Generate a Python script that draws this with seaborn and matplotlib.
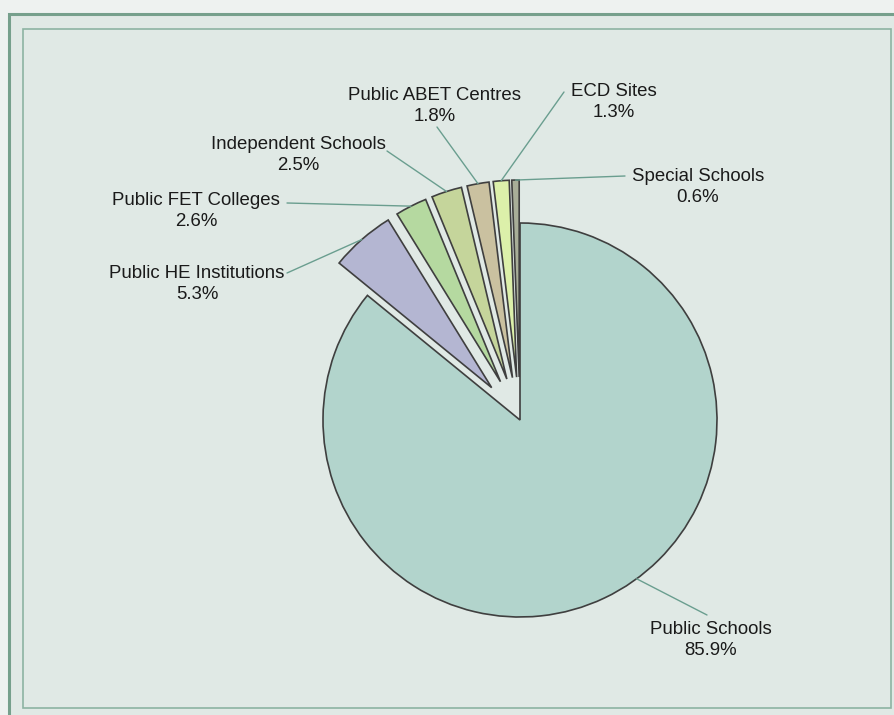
import matplotlib
matplotlib.use("Agg")
import matplotlib.pyplot as plt
from matplotlib.patches import Rectangle
import numpy as np
import seaborn as sns

# ---- data ----
categories = ["Public Schools", "Public HE Institutions", "Public FET Colleges",
              "Independent Schools", "Public ABET Centres", "ECD Sites", "Special Schools"]
shares = [85.9, 5.3, 2.6, 2.5, 1.8, 1.3, 0.6]
pct_labels = ["85.9%", "5.3%", "2.6%", "2.5%", "1.8%", "1.3%", "0.6%"]

# ---- style / layout ----
colors = ["#b2d4cc", "#b4b6d2", "#b5d9a0", "#c5d59b", "#cac1a0", "#dcf0aa", "#a8ae98"]
W, H = 895, 715
pie_center_px = (520, 420)
pie_radius_px = 197
explode_px = [0, 43, 43, 43, 43, 43, 43]
# label centres (pixels) and leader-line start points (pixels)
label_pos = [(711, 640), (197, 284), (196, 211), (298, 155), (435, 106), (614, 102), (698, 187)]
line_start = [(707, 615), (287, 273), (287, 203), (387, 151), (437, 127), (564, 92), (625, 176)]
anchor_angle = [-53.7, None, None, None, None, None, None]  # None -> wedge mid angle

sns.set_theme(style="white")
plt.rcParams["font.family"] = ["Liberation Sans", "DejaVu Sans"]

fig = plt.figure(figsize=(W / 100, H / 100), dpi=100, facecolor="#eef2f0")
ax = fig.add_axes([0, 0, 1, 1])
ax.set_facecolor("#eef2f0")

def Y(y):
    return H - y

# frames
ax.add_patch(Rectangle((9.5, -20), 920, Y(14) + 20, facecolor="#e0e9e5",
                       edgecolor="#76a08c", linewidth=2.2, zorder=0))
ax.add_patch(Rectangle((23, Y(708)), 868, 708 - 29, facecolor="#e0e9e5",
                       edgecolor="#8db3a2", linewidth=1.2, zorder=0.5))

wedges, _ = ax.pie(shares, colors=colors, explode=explode_px, startangle=90, counterclock=False,
                   center=(pie_center_px[0], Y(pie_center_px[1])), radius=pie_radius_px,
                   wedgeprops=dict(edgecolor="#3f3f3f", linewidth=1.2), frame=True)
for w in wedges:
    w.set_zorder(2)

for i, w in enumerate(wedges):
    cx, cy = w.center
    if anchor_angle[i] is None:
        ang = np.deg2rad((w.theta1 + w.theta2) / 2)
    else:
        ang = np.deg2rad(anchor_angle[i])
    ax_, ay_ = cx + w.r * np.cos(ang), cy + w.r * np.sin(ang)
    sx, sy = line_start[i]
    ax.plot([sx, ax_], [Y(sy), ay_], color="#6a9e8f", linewidth=1.0, zorder=3)
    lx, ly = label_pos[i]
    ax.text(lx, Y(ly), f"{categories[i]}\n{pct_labels[i]}", ha="center", va="center",
            fontsize=13.4, color="#1a1a1a", linespacing=1.38, zorder=4)

ax.set_xlim(0, W)
ax.set_ylim(0, H)
ax.set_aspect("equal")
ax.axis("off")

fig.savefig("out.png", dpi=100, facecolor=fig.get_facecolor())
